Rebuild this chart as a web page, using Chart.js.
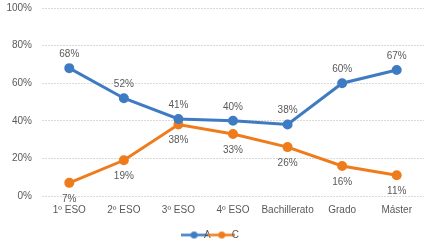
<!DOCTYPE html>
<html>
<head>
<meta charset="utf-8">
<script src="https://cdn.jsdelivr.net/npm/chart.js@4/dist/chart.umd.min.js"></script>
<style>
html,body{margin:0;padding:0;background:#fff;}
#wrap{width:430px;height:244px;}
</style>
</head>
<body>
<div id="wrap"><canvas id="c" width="430" height="244"></canvas></div>
<script>
const categories = ['1º ESO','2º ESO','3º ESO','4º ESO','Bachillerato','Grado','Máster'];
const seriesA = [68,52,41,40,38,60,67];
const seriesC = [7,19,38,33,26,16,11];
const yTicks = [0,20,40,60,80,100];

const blue = '#3E7BC2';
const orange = '#EF7C1C';
const textColor = '#595959';
const font = {family:'"Liberation Sans", Arial, sans-serif', size:10};

function legendIcon(color){
  const cv = document.createElement('canvas');
  cv.width = 27; cv.height = 9;
  const g = cv.getContext('2d');
  g.strokeStyle = color; g.lineWidth = 2.5;
  g.beginPath(); g.moveTo(0,4.5); g.lineTo(27,4.5); g.stroke();
  g.fillStyle = color;
  g.beginPath(); g.arc(13.5,4.5,3.5,0,Math.PI*2); g.fill();
  return cv;
}

const labelPlugin = {
  id:'pctLabels',
  afterDatasetsDraw(chart){
    const ctx = chart.ctx;
    ctx.save();
    ctx.font = '10px "Liberation Sans", Arial, sans-serif';
    ctx.fillStyle = textColor;
    ctx.textAlign = 'center';
    ctx.textBaseline = 'middle';
    chart.data.datasets.forEach((ds,i)=>{
      const meta = chart.getDatasetMeta(i);
      const off = ds.labelPos === 'above' ? -14 : 16;
      meta.data.forEach((pt,j)=>{
        ctx.fillText(ds.data[j]+'%', pt.x, pt.y+off);
      });
    });
    ctx.restore();
  }
};

new Chart(document.getElementById('c'),{
  type:'line',
  data:{
    labels:categories,
    datasets:[
      {label:'A',data:seriesA,borderColor:blue,backgroundColor:blue,borderWidth:3,pointRadius:3.5,pointBackgroundColor:blue,pointBorderColor:blue,labelPos:'above',pointStyle:'circle'},
      {label:'C',data:seriesC,borderColor:orange,backgroundColor:orange,borderWidth:3,pointRadius:3.5,pointBackgroundColor:orange,pointBorderColor:orange,labelPos:'below',pointStyle:'circle'}
    ]
  },
  options:{
    responsive:false,
    animation:false,
    layout:{autoPadding:false,padding:{top:8,right:6,left:4,bottom:-6}},
    plugins:{
      legend:{
        position:'bottom',
        labels:{
          color:textColor,font:font,usePointStyle:true,padding:6,
          generateLabels(chart){
            return chart.data.datasets.map((ds,i)=>({
              text:ds.label,pointStyle:legendIcon(ds.borderColor),
              fillStyle:ds.borderColor,strokeStyle:ds.borderColor,lineWidth:0,
              fontColor:textColor,datasetIndex:i,hidden:false
            }));
          }
        }
      },
      tooltip:{enabled:false}
    },
    scales:{
      x:{
        offset:true,
        grid:{display:false,drawTicks:false},
        border:{display:false},
        ticks:{color:textColor,font:font,padding:8,maxRotation:0,autoSkip:false}
      },
      y:{
        min:0,max:100,
        afterBuildTicks(axis){axis.ticks = yTicks.map(v=>({value:v}));},
        afterFit(axis){axis.width = 38;},
        grid:{color:'#D9D9D9',drawTicks:true,tickLength:10,tickColor:'rgba(0,0,0,0)',lineWidth:1},
        border:{display:false,dash:[2,1]},
        ticks:{color:textColor,font:font,padding:0,callback:v=>v+'%'}
      }
    }
  },
  plugins:[labelPlugin]
});
</script>
</body>
</html>
